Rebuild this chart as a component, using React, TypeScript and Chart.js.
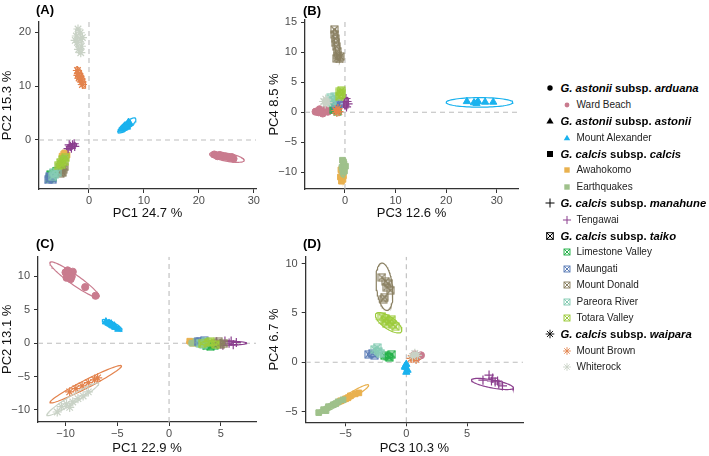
import React, { useEffect, useRef } from 'react';
import { Chart, registerables } from 'chart.js';

Chart.register(...registerables);

const FONT = '"Liberation Sans", Arial, Helvetica, sans-serif';

// Populations, in plotting order
const POPULATIONS = [
  'Ward Beach', 'Mount Alexander', 'Awahokomo', 'Earthquakes', 'Tengawai',
  'Limestone Valley', 'Maungati', 'Mount Donald', 'Pareora River', 'Totara Valley',
  'Mount Brown', 'Whiterock',
];
const POP_COLORS = [
  '#C97B8E', '#1AB2EE', '#E9B14F', '#9FC18B', '#8B3F8E',
  '#26B24B', '#5C7DB7', '#8A8062', '#86CCB4', '#9CCB3B',
  '#E3834D', '#C9D2C6',
];
const POP_SHAPES = [
  'circle', 'triangle', 'rect', 'rect', 'cross',
  'boxx', 'boxx', 'boxx', 'boxx', 'boxx',
  'star', 'star',
];

// Subspecies groups shown in the key (member indices into POPULATIONS)
const GROUP_GENUS = ['G. astonii', 'G. astonii', 'G. calcis', 'G. calcis', 'G. calcis', 'G. calcis'];
const GROUP_SUBSP = ['arduana', 'astonii', 'calcis', 'manahune', 'taiko', 'waipara'];
const GROUP_SHAPES = ['circle', 'triangle', 'rect', 'cross', 'boxx', 'star'];
const GROUP_MEMBERS = [[0], [1], [2, 3], [4], [5, 6, 7, 8, 9], [10, 11]];

// ---- Panel A: PC1 vs PC2 ----
const A_POINTS: number[][][] = [
  [[22.8, -2.7], [23.4, -3.0], [24.2, -3.0], [24.9, -3.1], [25.6, -3.3], [26.3, -3.5], [26.0, -3.2], [23.8, -2.8]],
  [[5.9, 1.9], [6.3, 2.2], [6.7, 2.5], [7.0, 2.8], [7.4, 3.1], [6.5, 2.6], [6.9, 2.4], [7.2, 3.3]],
  [[-4.9, -3.0], [-4.6, -2.6], [-4.3, -3.3], [-4.0, -2.8], [-4.7, -3.5], [-4.4, -2.4]],
  [[-6.0, -5.6], [-5.6, -5.0], [-5.2, -4.4], [-4.8, -3.8], [-5.4, -4.9], [-6.3, -6.0], [-4.4, -3.4]],
  [[-3.8, -1.6], [-3.4, -1.2], [-3.0, -0.9], [-2.7, -0.7], [-3.2, -1.5], [-2.6, -1.2], [-3.6, -0.9]],
  [[-7.2, -7.2], [-6.8, -6.6], [-6.4, -6.2], [-6.0, -5.8], [-6.6, -7.0], [-7.0, -6.4]],
  [[-7.4, -7.4], [-7.0, -7.0], [-6.6, -7.3], [-7.2, -6.8]],
  [[-5.0, -5.8], [-4.7, -5.4], [-4.5, -5.0], [-5.2, -6.2], [-4.8, -6.0]],
  [[-6.6, -6.8], [-6.2, -6.4], [-5.8, -6.0], [-6.4, -6.0]],
  [[-5.6, -4.8], [-5.2, -4.2], [-4.8, -3.6], [-4.5, -4.0], [-5.0, -4.6], [-4.3, -3.3]],
  [[-2.1, 12.9], [-1.9, 12.3], [-1.7, 11.8], [-1.5, 11.3], [-1.3, 10.8], [-1.8, 11.5], [-1.2, 10.3], [-2.0, 12.0]],
  [[-2.0, 20.6], [-1.6, 19.9], [-2.3, 19.3], [-1.5, 18.7], [-2.1, 18.1], [-1.4, 17.4], [-1.9, 16.8], [-1.5, 16.2], [-2.5, 18.5], [-1.2, 19.0]],
];
// ellipse: centre x, centre y, semi-axis u (x, y), conjugate semi-axis v (x, y)
const A_ELLIPSES: number[][] = [
  [25.1, -3.2, 3.15, -0.6, 0.14, 0.74],
  [6.9, 2.7, 1.6, 1.3, -0.41, 0.5],
  [-4.5, -2.9, 0.8, 0.6, -0.3, 0.4],
  [-5.3, -4.7, 1.2, 1.5, -0.35, 0.28],
  [-3.2, -1.2, 0.9, 0.5, -0.22, 0.39],
  [-6.6, -6.5, 0.8, 0.8, -0.3, 0.3],
  [-7.0, -7.1, 0.5, 0.4, -0.25, 0.3],
  [-4.8, -5.7, 0.35, 0.7, -0.3, 0.15],
  [-6.3, -6.3, 0.5, 0.5, -0.3, 0.3],
  [-5.0, -4.1, 0.8, 1.0, -0.32, 0.26],
  [-1.5, 11.6, -0.75, 2.0, 0.51, 0.19],
  [-1.85, 18.4, -0.3, 2.4, 0.55, 0.06],
];

// ---- Panel B: PC3 vs PC4 ----
const B_POINTS: number[][][] = [
  [[-5.8, 0.1], [-5.2, 0.0], [-4.6, 0.2], [-4.0, 0.4], [-3.4, 0.1], [-4.4, -0.2], [-5.0, 0.5], [-3.0, 0.3]],
  [[24.1, 1.8], [25.5, 1.6], [26.0, 1.5], [26.3, 1.8], [27.7, 1.7], [29.3, 1.7]],
  [[-0.9, -10.8], [-0.6, -10.2], [-0.4, -11.2], [-0.8, -9.6], [-0.3, -10.6], [-0.7, -11.5]],
  [[-0.5, -8.0], [-0.2, -8.6], [-0.6, -9.2], [-0.1, -9.8], [-0.4, -10.0], [0.1, -9.0], [-0.3, -8.3]],
  [[0.0, 1.2], [0.4, 1.8], [0.2, 2.3], [0.6, 1.4], [-0.2, 1.7], [0.3, 0.9]],
  [[-2.2, 0.4], [-1.8, 0.8], [-1.4, 0.5], [-2.0, 1.0], [-1.5, 0.2]],
  [[-1.9, 1.3], [-1.6, 1.0], [-1.3, 1.4]],
  [[-2.1, 13.8], [-2.0, 13.0], [-1.9, 12.3], [-1.8, 11.6], [-1.7, 11.0], [-1.5, 10.2], [-1.4, 9.5], [-1.1, 8.9], [-0.9, 9.3], [-1.6, 9.0]],
  [[-2.8, 2.4], [-2.4, 2.0], [-2.0, 2.6], [-2.6, 1.7]],
  [[-1.0, 3.4], [-0.8, 2.9], [-0.6, 3.1], [-1.1, 2.6], [-0.7, 3.6]],
  [[-1.8, 0.3], [-1.4, 0.6], [-1.2, 0.1], [-1.6, 0.0]],
  [[-4.2, 1.8], [-3.8, 2.2], [-3.4, 1.6], [-3.9, 1.4]],
];
const B_ELLIPSES: number[][] = [
  [-4.4, 0.2, 1.9, 0.1, 0, 0.55],
  [26.6, 1.65, 6.6, 0, 0, 0.8],
  [-0.6, -10.5, 0.1, 1.2, 0.5, 0],
  [-0.3, -9.2, 0.1, 1.6, 0.6, 0],
  [0.2, 1.6, 0.2, 0.9, 0.5, 0],
  [-1.8, 0.6, 0.6, 0.3, -0.2, 0.4],
  [-1.6, 1.2, 0.4, 0.1, 0, 0.3],
  [-1.6, 11.3, -0.45, 2.7, 0.45, 0],
  [-2.45, 2.2, 0.5, 0.2, 0, 0.5],
  [-0.85, 3.1, 0.1, 0.8, 0.45, 0],
  [-1.5, 0.25, 0.4, 0.3, -0.2, 0.3],
  [-3.8, 1.8, 0.6, 0.1, 0, 0.5],
];

// ---- Panel C: PC1 vs PC2 ----
const C_POINTS: number[][][] = [
  [[-10.0, 10.6], [-9.7, 10.3], [-9.4, 10.0], [-9.9, 9.8], [-9.3, 10.7], [-9.5, 9.6], [-8.1, 8.4], [-7.1, 7.1], [-9.8, 10.9]],
  [[-6.1, 3.2], [-5.8, 3.0], [-5.5, 2.7], [-5.2, 2.4], [-4.9, 2.1], [-5.6, 2.9], [-5.3, 2.6]],
  [[2.0, 0.3], [2.5, 0.1], [3.0, 0.2], [2.3, 0.0], [3.5, 0.1]],
  [[2.2, 0.0], [2.8, -0.1], [3.3, 0.2], [3.9, 0.0], [2.6, 0.3], [4.2, -0.1]],
  [[4.6, 0.2], [5.0, -0.1], [5.4, 0.3], [5.8, 0.0], [6.2, -0.2], [6.5, 0.1], [5.2, -0.3], [6.0, 0.3]],
  [[3.6, -0.4], [4.0, -0.5], [4.4, -0.3], [3.8, -0.2]],
  [[3.0, 0.3], [3.4, 0.4], [2.8, 0.2]],
  [[4.6, 0.0], [5.0, -0.2], [4.8, 0.2], [5.3, 0.0]],
  [[3.0, 0.0], [3.5, 0.2], [3.3, -0.2]],
  [[3.2, -0.1], [3.8, 0.1], [4.5, -0.2], [4.0, 0.2]],
  [[-9.6, -7.3], [-9.0, -6.8], [-7.8, -5.9], [-7.2, -5.5], [-8.4, -6.4], [-6.9, -5.2]],
  [[-10.8, -10.3], [-10.4, -9.5], [-9.9, -9.1], [-9.3, -8.8], [-8.8, -8.3], [-8.3, -7.9], [-7.8, -7.3], [-9.6, -9.6]],
];
const C_ELLIPSES: number[][] = [
  [-9.13, 9.5, 2.37, -2.6, -0.28, -0.61],
  [-5.5, 2.7, 0.95, -0.75, -0.13, -0.4],
  [2.7, 0.15, 1.0, 0, 0, 0.35],
  [3.2, 0.05, 1.3, 0, 0, 0.35],
  [5.6, 0.0, 1.9, 0, 0, 0.3],
  [4.0, -0.35, 0.6, 0, 0, 0.25],
  [3.1, 0.3, 0.5, 0, 0, 0.25],
  [4.9, 0.0, 0.5, 0, 0, 0.25],
  [3.3, 0.0, 0.4, 0, 0, 0.25],
  [3.9, 0.0, 0.9, 0, 0, 0.3],
  [-8.05, -6.15, 3.45, 2.75, 0.18, -0.53],
  [-9.3, -8.4, 2.5, 2.4, 0.2, -0.51],
];

// ---- Panel D: PC3 vs PC4 ----
const D_POINTS: number[][][] = [
  [[0.7, 0.8], [1.0, 0.6], [1.2, 0.7], [0.9, 0.5]],
  [[0.0, -0.2], [-0.1, -0.5], [0.1, -0.8], [0.0, -1.0], [-0.1, -0.4]],
  [[-5.4, -3.9], [-5.0, -3.7], [-4.6, -3.4], [-4.2, -3.2], [-3.9, -3.1], [-4.8, -3.6]],
  [[-7.2, -5.1], [-6.8, -4.8], [-6.4, -4.5], [-6.0, -4.3], [-5.6, -4.0], [-5.2, -3.8], [-6.6, -4.9], [-5.8, -4.2]],
  [[6.8, -1.3], [7.0, -1.9], [7.3, -2.0], [7.6, -2.2], [7.9, -2.4], [6.3, -1.8], [7.1, -1.6], [7.5, -1.9]],
  [[-1.8, 0.7], [-1.5, 0.6], [-1.2, 0.8], [-1.4, 0.5]],
  [[-3.1, 0.8], [-2.8, 0.9], [-2.6, 0.7]],
  [[-2.0, 8.6], [-1.7, 8.2], [-1.6, 7.6], [-1.3, 7.3], [-1.9, 6.4], [-1.5, 8.0], [-1.8, 6.6]],
  [[-2.6, 1.3], [-2.3, 1.1], [-2.4, 1.5], [-2.1, 0.9]],
  [[-2.0, 4.6], [-1.7, 4.4], [-1.4, 4.1], [-1.1, 3.8], [-1.6, 3.9], [-1.2, 4.3], [-0.9, 3.6], [-1.8, 4.2]],
  [[0.4, 0.4], [0.6, 0.6], [0.8, 0.3]],
  [[0.7, 0.9], [0.9, 0.7], [0.5, 0.6]],
];
const D_ELLIPSES: number[][] = [
  [0.95, 0.65, 0.4, 0.1, 0, 0.25],
  [0.0, -0.6, 0, 0.5, 0.2, 0],
  [-4.5, -3.35, 1.4, 1.05, 0.13, -0.26],
  [-6.2, -4.45, 1.1, 0.75, 0.12, -0.27],
  [7.08, -2.2, 1.72, -0.4, -0.06, -0.4],
  [-1.5, 0.65, 0.4, 0, 0, 0.2],
  [-2.85, 0.8, 0.35, 0, 0, 0.25],
  [-1.8, 7.65, -0.2, 2.4, 0.66, 0],
  [-2.35, 1.2, 0.3, -0.2, 0.1, 0.2],
  [-1.45, 4.0, 1.05, -0.9, -0.28, -0.5],
  [0.6, 0.45, 0.3, 0.1, 0, 0.25],
  [0.7, 0.75, 0.3, 0.1, 0, 0.2],
];

// Axis ranges and tick values
const A_X_RANGE = [-9.1, 30.4];
const A_Y_RANGE = [-9.1, 21.9];
const A_X_TICKS = [0, 10, 20, 30];
const A_Y_TICKS = [0, 10, 20];
const B_X_RANGE = [-7.9, 34.2];
const B_Y_RANGE = [-12.8, 15.4];
const B_X_TICKS = [0, 10, 20, 30];
const B_Y_TICKS = [-10, -5, 0, 5, 10, 15];
const C_X_RANGE = [-12.66, 8.4];
const C_Y_RANGE = [-11.8, 12.95];
const C_X_TICKS = [-10, -5, 0, 5];
const C_Y_TICKS = [-10, -5, 0, 5, 10];
const D_X_RANGE = [-8.27, 9.59];
const D_Y_RANGE = [-6.08, 10.69];
const D_X_TICKS = [-5, 0, 5];
const D_Y_TICKS = [-5, 0, 5, 10];

type Panel = {
  tag: string;
  xTitle: string;
  yTitle: string;
  xRange: number[];
  yRange: number[];
  xTicks: number[];
  yTicks: number[];
  points: number[][][];
  ellipses: number[][];
  box: { left: number; top: number; width: number; height: number };
  area: { l: number; r: number; t: number; b: number };
  tagPos: { left: number; top: number };
};

const PANELS: Panel[] = [
  {
    tag: '(A)', xTitle: 'PC1 24.7 %', yTitle: 'PC2 15.3 %',
    xRange: A_X_RANGE, yRange: A_Y_RANGE, xTicks: A_X_TICKS, yTicks: A_Y_TICKS,
    points: A_POINTS, ellipses: A_ELLIPSES,
    box: { left: 0, top: 0, width: 268, height: 221 },
    area: { l: 39, r: 256, t: 22, b: 189 },
    tagPos: { left: 36, top: 2 },
  },
  {
    tag: '(B)', xTitle: 'PC3 12.6 %', yTitle: 'PC4 8.5 %',
    xRange: B_X_RANGE, yRange: B_Y_RANGE, xTicks: B_X_TICKS, yTicks: B_Y_TICKS,
    points: B_POINTS, ellipses: B_ELLIPSES,
    box: { left: 267, top: 0, width: 270, height: 221 },
    area: { l: 305, r: 518, t: 20, b: 189 },
    tagPos: { left: 303, top: 3 },
  },
  {
    tag: '(C)', xTitle: 'PC1 22.9 %', yTitle: 'PC2 13.1 %',
    xRange: C_X_RANGE, yRange: C_Y_RANGE, xTicks: C_X_TICKS, yTicks: C_Y_TICKS,
    points: C_POINTS, ellipses: C_ELLIPSES,
    box: { left: 0, top: 228, width: 268, height: 228 },
    area: { l: 38, r: 256, t: 256.7, b: 422 },
    tagPos: { left: 36, top: 236 },
  },
  {
    tag: '(D)', xTitle: 'PC3 10.3 %', yTitle: 'PC4 6.7 %',
    xRange: D_X_RANGE, yRange: D_Y_RANGE, xTicks: D_X_TICKS, yTicks: D_Y_TICKS,
    points: D_POINTS, ellipses: D_ELLIPSES,
    box: { left: 267, top: 228, width: 270, height: 228 },
    area: { l: 305.7, r: 523, t: 256.7, b: 422.3 },
    tagPos: { left: 303, top: 236 },
  },
];

const POINT_RADIUS: Record<string, number> = { circle: 3.6, triangle: 4.2, rect: 4, cross: 4.6, star: 4.6, boxx: 4 };

function ellipseOutline(e: number[]) {
  const [cx, cy, ux, uy, vx, vy] = e;
  const pts: { x: number; y: number }[] = [];
  const n = 80;
  for (let k = 0; k <= n; k++) {
    const t = (k / n) * Math.PI * 2;
    pts.push({ x: cx + ux * Math.cos(t) + vx * Math.sin(t), y: cy + uy * Math.cos(t) + vy * Math.sin(t) });
  }
  return pts;
}

function boxCrossMarker(color: string) {
  const c = document.createElement('canvas');
  c.width = 9;
  c.height = 9;
  const g = c.getContext('2d')!;
  g.strokeStyle = color;
  g.lineWidth = 1.1;
  g.strokeRect(1, 1, 7, 7);
  g.beginPath();
  g.moveTo(1, 1);
  g.lineTo(8, 8);
  g.moveTo(8, 1);
  g.lineTo(1, 8);
  g.stroke();
  return c;
}

const fmtTick = (v: number) => (v < 0 ? '\u2212' + Math.abs(v) : String(v));

function makeChart(canvas: HTMLCanvasElement, p: Panel) {
  const { box, area } = p;
  const yW = area.l - box.left;
  const xH = box.top + box.height - area.b;
  const datasets: any[] = [];

  POPULATIONS.forEach((name, i) => {
    const color = POP_COLORS[i];
    const shape = POP_SHAPES[i];
    datasets.push({
      label: name,
      data: p.points[i].map(([x, y]) => ({ x, y })),
      pointStyle: shape === 'boxx' ? boxCrossMarker(color) : shape,
      pointRadius: POINT_RADIUS[shape],
      backgroundColor: color,
      borderColor: color,
      borderWidth: shape === 'star' || shape === 'cross' ? 1.2 : 1,
      showLine: false,
      order: 100 - 2 * i,
    });
    datasets.push({
      label: name + ' ellipse',
      data: ellipseOutline(p.ellipses[i]),
      showLine: true,
      pointRadius: 0,
      borderColor: color,
      borderWidth: 1.2,
      fill: false,
      tension: 0,
      order: 99 - 2 * i,
    });
  });

  // zero reference lines
  const dashed = {
    showLine: true,
    pointRadius: 0,
    borderColor: '#BDBDBD',
    borderWidth: 1.1,
    borderDash: [5, 4],
    fill: false,
    order: 1000,
  };
  datasets.push({ ...dashed, label: 'x0', data: [{ x: 0, y: p.yRange[0] }, { x: 0, y: p.yRange[1] }] });
  datasets.push({ ...dashed, label: 'y0', data: [{ x: p.xRange[0], y: 0 }, { x: p.xRange[1], y: 0 }] });

  const tickFont = { family: FONT, size: 11 };
  const titleFont = { family: FONT, size: 13 };
  const gridOpts = { display: true, drawOnChartArea: false, drawTicks: true, tickLength: 4, tickColor: '#333', tickWidth: 1 };
  const borderOpts = { display: true, color: '#333', width: 1.3 };

  return new Chart(canvas, {
    type: 'scatter',
    data: { datasets },
    options: {
      animation: false,
      responsive: false,
      devicePixelRatio: 1,
      events: [],
      layout: {
        padding: { left: 0, top: area.t - box.top, right: box.left + box.width - area.r, bottom: 0 },
      },
      plugins: { legend: { display: false }, tooltip: { enabled: false }, title: { display: false } },
      scales: {
        x: {
          type: 'linear',
          min: p.xRange[0],
          max: p.xRange[1],
          afterBuildTicks: (s: any) => { s.ticks = p.xTicks.map((v) => ({ value: v })); },
          afterFit: (s: any) => { s.height = xH; },
          ticks: { font: tickFont, color: '#4D4D4D', padding: 1, maxRotation: 0, callback: (v: any) => fmtTick(Number(v)) },
          grid: gridOpts,
          border: borderOpts,
          title: { display: true, text: p.xTitle, font: titleFont, color: '#111', padding: { top: 0, bottom: 0 } },
        },
        y: {
          type: 'linear',
          min: p.yRange[0],
          max: p.yRange[1],
          afterBuildTicks: (s: any) => { s.ticks = p.yTicks.map((v) => ({ value: v })); },
          afterFit: (s: any) => { s.width = yW; },
          ticks: { font: tickFont, color: '#4D4D4D', padding: 4, callback: (v: any) => fmtTick(Number(v)) },
          grid: gridOpts,
          border: borderOpts,
          title: { display: true, text: p.yTitle, font: titleFont, color: '#111', padding: { top: 0, bottom: 0 } },
        },
      },
    } as any,
  });
}

function PanelCanvas({ panel }: { panel: Panel }) {
  const ref = useRef<HTMLCanvasElement | null>(null);
  useEffect(() => {
    if (!ref.current) return;
    const chart = makeChart(ref.current, panel);
    return () => chart.destroy();
  }, [panel]);
  const { box } = panel;
  return (
    <canvas
      ref={ref}
      width={box.width}
      height={box.height}
      style={{ position: 'absolute', left: box.left, top: box.top, width: box.width, height: box.height }}
    />
  );
}

function KeyIcon({ shape, color, big }: { shape: string; color: string; big: boolean }) {
  const s = big ? 1 : 0.9;
  let el: React.ReactNode = null;
  if (shape === 'circle') el = <circle cx={5} cy={5} r={2.7 * s} fill={color} />;
  else if (shape === 'triangle') el = <polygon points={`5,${5 - 3.6 * s} ${5 + 3.6 * s},${5 + 2.6 * s} ${5 - 3.6 * s},${5 + 2.6 * s}`} fill={color} />;
  else if (shape === 'rect') el = <rect x={5 - 3 * s} y={5 - 3 * s} width={6 * s} height={6 * s} fill={color} />;
  else if (shape === 'cross') el = <path d={`M5 ${5 - 4.5 * s}V${5 + 4.5 * s}M${5 - 4.5 * s} 5H${5 + 4.5 * s}`} stroke={color} strokeWidth={1} fill="none" />;
  else if (shape === 'boxx') {
    const h = 3.3 * s;
    el = (
      <g stroke={color} strokeWidth={1} fill="none">
        <rect x={5 - h} y={5 - h} width={2 * h} height={2 * h} />
        <path d={`M${5 - h} ${5 - h}L${5 + h} ${5 + h}M${5 + h} ${5 - h}L${5 - h} ${5 + h}`} />
      </g>
    );
  } else if (shape === 'star') {
    const r = 4.3 * s;
    const d = r * Math.SQRT1_2;
    el = (
      <path
        d={`M5 ${5 - r}V${5 + r}M${5 - r} 5H${5 + r}M${5 - d} ${5 - d}L${5 + d} ${5 + d}M${5 + d} ${5 - d}L${5 - d} ${5 + d}`}
        stroke={color}
        strokeWidth={0.9}
        fill="none"
      />
    );
  }
  return (
    <svg width={10} height={10} viewBox="0 0 10 10" style={{ position: 'absolute', left: -5, top: -5, overflow: 'visible' }}>
      {el}
    </svg>
  );
}

function Key() {
  const rows: React.ReactNode[] = [];
  let k = 0;
  const y0 = 88.4;
  const step = 16.4;
  GROUP_SUBSP.forEach((sub, g) => {
    const yc = y0 + step * k++;
    rows.push(
      <div key={'g' + g}>
        <div style={{ position: 'absolute', left: 549.5, top: yc }}>
          <KeyIcon shape={GROUP_SHAPES[g]} color="#000" big />
        </div>
        <div
          style={{
            position: 'absolute', left: 560.5, top: yc - 8, height: 16, lineHeight: '16px',
            fontSize: 11.3, fontWeight: 700, color: '#000', whiteSpace: 'nowrap',
          }}
        >
          <i>{GROUP_GENUS[g]}</i> subsp. <i>{sub}</i>
        </div>
      </div>
    );
    GROUP_MEMBERS[g].forEach((pi) => {
      const ym = y0 + step * k++;
      rows.push(
        <div key={'p' + pi}>
          <div style={{ position: 'absolute', left: 567, top: ym }}>
            <KeyIcon shape={POP_SHAPES[pi]} color={POP_COLORS[pi]} big={false} />
          </div>
          <div
            style={{
              position: 'absolute', left: 576.5, top: ym - 8, height: 16, lineHeight: '16px',
              fontSize: 10, color: '#222', whiteSpace: 'nowrap',
            }}
          >
            {POPULATIONS[pi]}
          </div>
        </div>
      );
    });
  });
  return <>{rows}</>;
}

export default function App() {
  return (
    <div
      style={{
        position: 'absolute', left: 0, top: 0, width: 709, height: 456,
        background: '#fff', fontFamily: FONT, overflow: 'hidden',
      }}
    >
      {PANELS.map((p) => (
        <PanelCanvas key={p.tag} panel={p} />
      ))}
      {PANELS.map((p) => (
        <div
          key={p.tag + 't'}
          style={{
            position: 'absolute', left: p.tagPos.left, top: p.tagPos.top,
            fontSize: 13, fontWeight: 700, lineHeight: '16px', color: '#000',
          }}
        >
          {p.tag}
        </div>
      ))}
      <Key />
    </div>
  );
}
